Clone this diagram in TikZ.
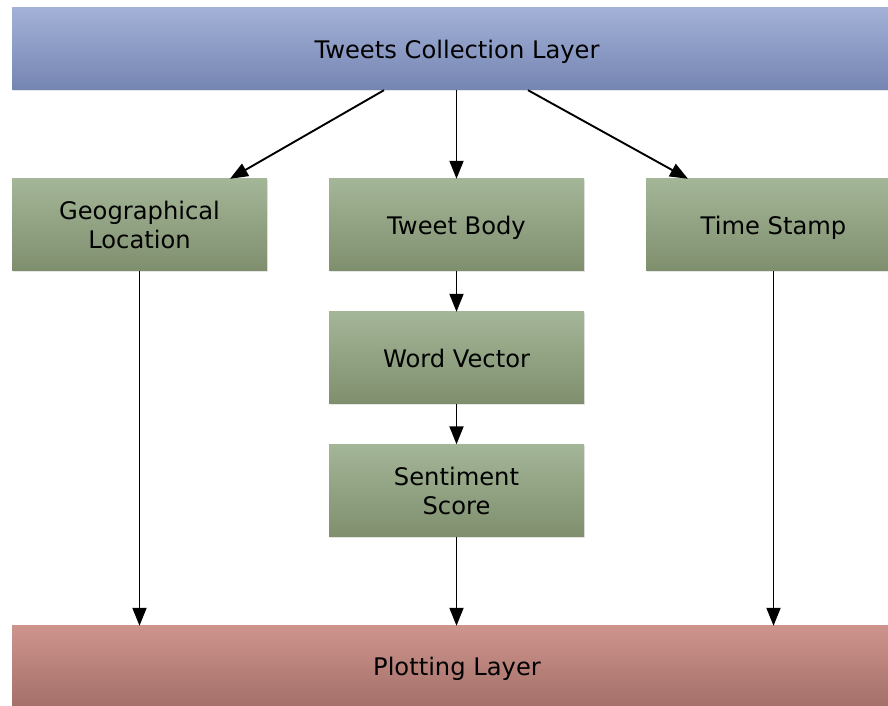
\documentclass[tikz,border=0pt]{standalone}
\usepackage{fontspec}
\setmainfont{DejaVu Sans}
\usetikzlibrary{arrows.meta,shadows}

\definecolor{layertop}{RGB}{163,177,215}
\definecolor{layerbot}{RGB}{117,133,178}
\definecolor{stagetop}{RGB}{164,182,152}
\definecolor{stagebot}{RGB}{127,143,110}
\definecolor{plottop}{RGB}{205,148,140}
\definecolor{plotbot}{RGB}{164,112,106}

\begin{document}
\begin{tikzpicture}[x=1pt, y=1pt,
	every node/.style={font=\fontsize{24.2}{29}\selectfont, align=center, inner sep=0pt},
	oneline/.style={text height=18.5pt, text depth=0pt},
	boxshadow/.style={drop shadow={shadow xshift=0.5pt, shadow yshift=-1.5pt, opacity=0.2}},
	layer/.style={boxshadow, oneline, minimum width=890pt, minimum height=82pt, top color=layertop, bottom color=layerbot},
	plotlayer/.style={boxshadow, oneline, minimum width=890pt, minimum height=80pt, top color=plottop, bottom color=plotbot},
	stage/.style={boxshadow, minimum width=255pt, minimum height=92pt, top color=stagetop, bottom color=stagebot},
	flow/.style={-{Triangle[length=18pt, width=14pt]}, line width=1.9pt}]
	\clip (0,0) rectangle (888,706);

	\node[layer] (tweets) at (457,657) {Tweets Collection Layer};

	\node[stage] (geo) at (139.5,481) {Geographical\\Location};
	\node[stage, oneline] (body) at (456.5,481) {Tweet Body};
	\node[stage, oneline] (time) at (773.5,481) {Time Stamp};
	\node[stage, oneline] (vector) at (456.5,348) {Word Vector};
	\node[stage] (score) at (456.5,215.5) {Sentiment\\Score};

	\node[plotlayer] (plot) at (457,40) {Plotting Layer};

	\draw[flow] ([xshift=-73pt]tweets.south) -- ([xshift=90.5pt]geo.north);
	\draw[flow] (tweets.south -| body.north) -- (body.north);
	\draw[flow] ([xshift=71pt]tweets.south) -- ([xshift=-85.5pt]time.north);

	\draw[flow] (body) -- (vector);
	\draw[flow] (vector) -- (score);

	\draw[flow] (geo) -- (geo |- plot.north);
	\draw[flow] (score) -- (score |- plot.north);
	\draw[flow] (time) -- (time |- plot.north);
\end{tikzpicture}
\end{document}
